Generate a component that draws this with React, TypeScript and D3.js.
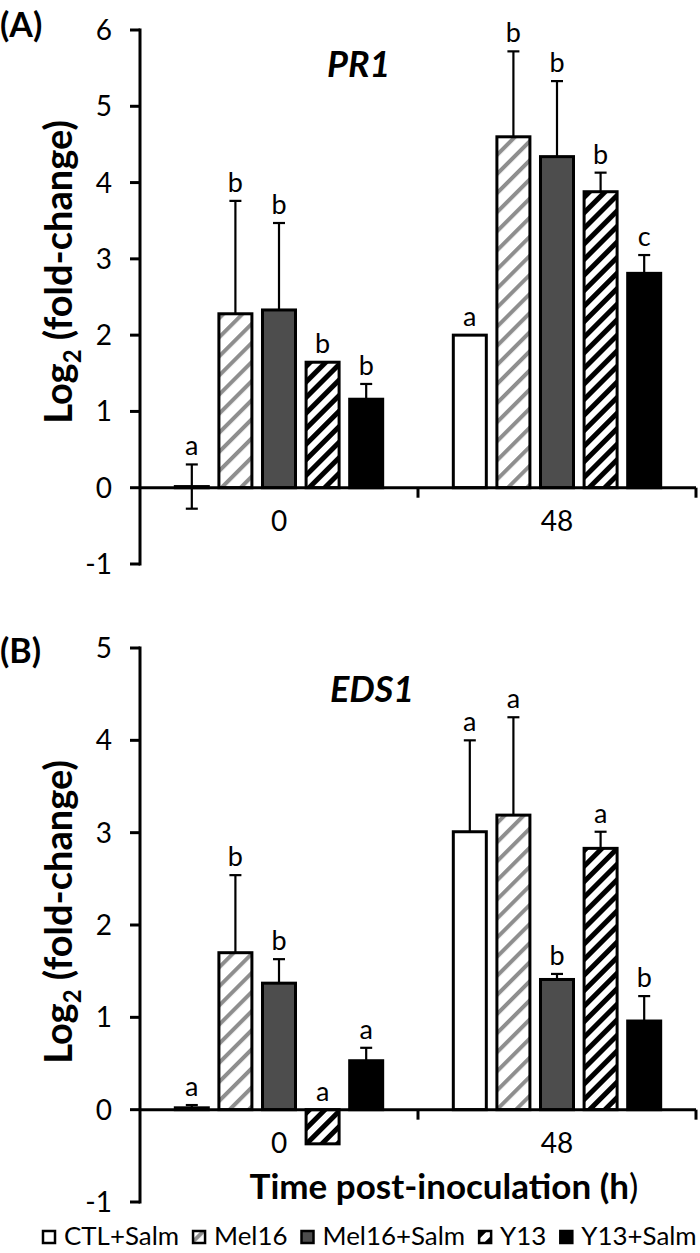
import React, { useEffect, useRef } from "react";
import * as d3 from "d3";

// ---------- data ----------
const series = ["CTL+Salm", "Mel16", "Mel16+Salm", "Y13", "Y13+Salm"];
const times = ["0", "48"];

// PR1 (panel A)
const pr1Mean0h = [0.015, 2.28, 2.33, 1.645, 1.16];
const pr1Mean48h = [2.0, 4.6, 4.34, 3.88, 2.81];
const pr1ErrUp0h = [0.29, 1.48, 1.14, 0, 0.2];
const pr1ErrUp48h = [0, 1.12, 0.99, 0.25, 0.24];
const pr1ErrDown0h = [0.29, 0, 0, 0, 0];
const pr1ErrDown48h = [0, 0, 0, 0, 0];
const pr1Letters0h = ["a", "b", "b", "b", "b"];
const pr1Letters48h = ["a", "b", "b", "b", "c"];
const pr1Ticks = [-1, 0, 1, 2, 3, 4, 5, 6];

// EDS1 (panel B)
const eds1Mean0h = [0.02, 1.7, 1.37, -0.37, 0.53];
const eds1Mean48h = [3.01, 3.19, 1.41, 2.83, 0.96];
const eds1ErrUp0h = [0.03, 0.84, 0.26, 0, 0.14];
const eds1ErrUp48h = [0.99, 1.06, 0.06, 0.18, 0.27];
const eds1ErrDown0h = [0, 0, 0, 0, 0];
const eds1ErrDown48h = [0, 0, 0, 0, 0];
const eds1Letters0h = ["a", "b", "b", "a", "a"];
const eds1Letters48h = ["a", "a", "b", "a", "b"];
const eds1Ticks = [-1, 0, 1, 2, 3, 4, 5];

const FONT = "Lato, 'Open Sans', sans-serif";

export default function App() {
  const ref = useRef<SVGSVGElement | null>(null);

  useEffect(() => {
    const svg = d3.select(ref.current);
    svg.selectAll("*").remove();
    const defs = svg.append("defs");

    const mkHatch = (id: string, size: number, w: number, color: string) => {
      const p = defs
        .append("pattern")
        .attr("id", id)
        .attr("patternUnits", "userSpaceOnUse")
        .attr("width", size)
        .attr("height", size)
        .attr("patternTransform", "rotate(45)");
      p.append("rect").attr("width", size).attr("height", size).attr("fill", "#fff");
      p.append("rect").attr("x", 0).attr("width", w).attr("height", size).attr("fill", color);
    };
    mkHatch("hMel", 13.5, 4, "#8e8e8e");
    mkHatch("hY13", 11, 5, "#000");

    const fills: Record<string, string> = {
      "CTL+Salm": "#fff",
      Mel16: "url(#hMel)",
      "Mel16+Salm": "#4d4d4d",
      Y13: "url(#hY13)",
      "Y13+Salm": "#000",
    };

    const panels = [
      {
        label: "(A)",
        gene: "PR1",
        means: [pr1Mean0h, pr1Mean48h],
        up: [pr1ErrUp0h, pr1ErrUp48h],
        down: [pr1ErrDown0h, pr1ErrDown48h],
        letters: [pr1Letters0h, pr1Letters48h],
        ticks: pr1Ticks,
        yRange: [564, 30],
        labelY: 37,
        geneX: 327,
        geneY: 77,
        yTitleC: 272,
      },
      {
        label: "(B)",
        gene: "EDS1",
        means: [eds1Mean0h, eds1Mean48h],
        up: [eds1ErrUp0h, eds1ErrUp48h],
        down: [eds1ErrDown0h, eds1ErrDown48h],
        letters: [eds1Letters0h, eds1Letters48h],
        ticks: eds1Ticks,
        yRange: [1202, 648],
        labelY: 663,
        geneX: 330,
        geneY: 702,
        yTitleC: 912,
      },
    ];

    const axisX = 140;
    const x0 = d3.scaleBand<string>().domain(times).range([axisX, 696]);
    const x1 = d3
      .scaleBand<string>()
      .domain(series)
      .range([0, x0.bandwidth()])
      .paddingInner(0.243)
      .paddingOuter(0.81);

    panels.forEach((p) => {
      const y = d3
        .scaleLinear()
        .domain([p.ticks[0], p.ticks[p.ticks.length - 1]])
        .range(p.yRange);
      const g = svg.append("g");

      // bars
      times.forEach((t, ti) => {
        series.forEach((s, si) => {
          const v = p.means[ti][si];
          const bx = (x0(t) as number) + (x1(s) as number);
          const bw = x1.bandwidth();
          g.append("rect")
            .attr("x", bx)
            .attr("y", y(Math.max(v, 0)))
            .attr("width", bw)
            .attr("height", Math.abs(y(v) - y(0)))
            .attr("fill", fills[s])
            .attr("stroke", "#000")
            .attr("stroke-width", 3);
        });
      });

      // error bars + letters
      times.forEach((t, ti) => {
        series.forEach((s, si) => {
          const v = p.means[ti][si];
          const eu = p.up[ti][si];
          const ed = p.down[ti][si];
          const cx = (x0(t) as number) + (x1(s) as number) + x1.bandwidth() / 2;
          const eb = g.append("g").attr("stroke", "#000").attr("stroke-width", 2.2);
          if (eu > 0) {
            eb.append("line").attr("x1", cx).attr("x2", cx).attr("y1", y(v)).attr("y2", y(v + eu));
            eb.append("line").attr("x1", cx - 6).attr("x2", cx + 6).attr("y1", y(v + eu)).attr("y2", y(v + eu));
          }
          if (ed > 0) {
            eb.append("line").attr("x1", cx).attr("x2", cx).attr("y1", y(v)).attr("y2", y(v - ed));
            eb.append("line").attr("x1", cx - 6).attr("x2", cx + 6).attr("y1", y(v - ed)).attr("y2", y(v - ed));
          }
          const top = v >= 0 ? y(v + eu) : y(0);
          g.append("text")
            .attr("x", cx)
            .attr("y", top - 9)
            .attr("text-anchor", "middle")
            .attr("font-family", FONT)
            .attr("font-size", 27)
            .attr("fill", "#000")
            .text(p.letters[ti][si]);
        });
      });

      // x axis
      const y0 = y(0);
      g.append("line")
        .attr("x1", axisX)
        .attr("x2", 696)
        .attr("y1", y0)
        .attr("y2", y0)
        .attr("stroke", "#000")
        .attr("stroke-width", 3);
      times.forEach((t) => {
        const xe = (x0(t) as number) + x0.bandwidth();
        g.append("line")
          .attr("x1", xe)
          .attr("x2", xe)
          .attr("y1", y0)
          .attr("y2", y0 + 10)
          .attr("stroke", "#000")
          .attr("stroke-width", 3);
        g.append("text")
          .attr("x", (x0(t) as number) + x0.bandwidth() / 2)
          .attr("y", y0 + 43)
          .attr("text-anchor", "middle")
          .attr("font-family", FONT)
          .attr("font-size", 28)
          .text(t);
      });

      // y axis
      g.append("line")
        .attr("x1", axisX)
        .attr("x2", axisX)
        .attr("y1", y(p.ticks[p.ticks.length - 1]) - 1.5)
        .attr("y2", y(p.ticks[0]) + 1.5)
        .attr("stroke", "#000")
        .attr("stroke-width", 3);
      p.ticks.forEach((tk) => {
        g.append("line")
          .attr("x1", axisX - 10)
          .attr("x2", axisX)
          .attr("y1", y(tk))
          .attr("y2", y(tk))
          .attr("stroke", "#000")
          .attr("stroke-width", 3);
        g.append("text")
          .attr("x", 112)
          .attr("y", y(tk) + 10)
          .attr("text-anchor", "end")
          .attr("font-family", FONT)
          .attr("font-size", 28)
          .text(String(tk));
      });

      // panel labels
      g.append("text")
        .attr("x", 0)
        .attr("y", p.labelY)
        .attr("font-family", FONT)
        .attr("font-weight", "bold")
        .attr("font-size", 34)
        .text(p.label);
      g.append("text")
        .attr("x", p.geneX)
        .attr("y", p.geneY)
        .attr("font-family", FONT)
        .attr("font-weight", "bold")
        .attr("font-style", "italic")
        .attr("font-size", 36)
        .text(p.gene);

      // y title
      const yt = g
        .append("text")
        .attr("transform", `translate(72,${p.yTitleC}) rotate(-90)`)
        .attr("text-anchor", "middle")
        .attr("font-family", FONT)
        .attr("font-weight", "bold")
        .attr("font-size", 38);
      yt.append("tspan").text("Log");
      yt.append("tspan").attr("font-size", 24).attr("dy", 9).text("2");
      yt.append("tspan").attr("dy", -9).text(" (fold-change)");
    });

    // x title
    const xt = svg
      .append("text")
      .attr("x", 444)
      .attr("y", 1199)
      .attr("text-anchor", "middle")
      .attr("font-family", FONT)
      .attr("font-weight", "bold")
      .attr("font-size", 35);
    xt.append("tspan").text("Time post-inoculation (h");
    xt.append("tspan").attr("font-weight", "normal").text(")");

    // legend (fit into 43..698)
    const lg = svg.append("g");
    const texts = series.map((s) =>
      lg
        .append("text")
        .attr("y", 1245)
        .attr("font-family", FONT)
        .attr("font-size", 24)
        .text(s)
    );
    const natural = d3.sum(texts, (t) => (t.node() as SVGTextElement).getComputedTextLength());
    const box = 12, gapBT = 9, gapItem = 14, startX = 43, endX = 697;
    const avail = endX - startX - series.length * (box + gapBT) - (series.length - 1) * gapItem;
    const fs = 24 * (avail / natural);
    texts.forEach((t) => t.attr("font-size", fs));
    let cx = startX;
    series.forEach((s, i) => {
      lg.append("rect")
        .attr("x", cx)
        .attr("y", 1231)
        .attr("width", box)
        .attr("height", box)
        .attr("fill", fills[s])
        .attr("stroke", "#000")
        .attr("stroke-width", 2.5);
      cx += box + gapBT;
      texts[i].attr("x", cx);
      cx += (texts[i].node() as SVGTextElement).getComputedTextLength() + gapItem;
    });
  }, []);

  return (
    <svg
      ref={ref}
      width={700}
      height={1253}
      style={{ position: "absolute", left: 0, top: 0, background: "#fff", display: "block" }}
    />
  );
}
